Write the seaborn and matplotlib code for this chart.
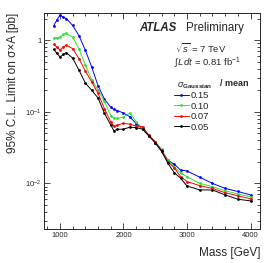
import numpy as np
import pandas as pd
import seaborn as sns
import matplotlib
matplotlib.use("Agg")
import matplotlib.pyplot as plt
from matplotlib.ticker import LogLocator, FixedLocator, MultipleLocator, FuncFormatter, NullFormatter
from matplotlib.lines import Line2D

# masses [GeV]
masses = [900, 950, 1000, 1050, 1100, 1200, 1300, 1400, 1500, 1600, 1700, 1800, 1850,
          1900, 2000, 2100, 2200, 2300, 2400, 2500, 2600, 2700, 2800, 2900, 3000,
          3200, 3400, 3600, 3800, 4000]

# 95% CL limits on sigma x A [pb] for each sigma_Gaussian / mean
lim_015 = [1.58, 1.90, 2.23, 2.10, 2.00, 1.60, 1.15, 0.72, 0.42, 0.23, 0.15, 0.115, 0.108,
           0.104, 0.096, 0.085, 0.068, 0.058, 0.046, 0.037, 0.028, 0.021, 0.0185, 0.0153, 0.0149,
           0.0122, 0.0100, 0.0085, 0.0077, 0.0069]
lim_010 = [1.08, 1.08, 1.10, 1.20, 1.24, 1.10, 0.75, 0.45, 0.28, 0.20, 0.14, 0.088, 0.081,
           0.081, 0.084, 0.096, 0.072, 0.058, 0.047, 0.038, 0.030, 0.021, 0.0170, 0.0139, 0.0124,
           0.0100, 0.0090, 0.0079, 0.0071, 0.0065]
lim_007 = [0.87, 0.80, 0.73, 0.80, 0.85, 0.76, 0.55, 0.37, 0.26, 0.18, 0.11, 0.072, 0.063,
           0.065, 0.069, 0.067, 0.063, 0.062, 0.047, 0.038, 0.029, 0.020, 0.0165, 0.0124, 0.0106,
           0.0093, 0.0085, 0.0074, 0.0067, 0.0061]
lim_005 = [0.74, 0.66, 0.58, 0.63, 0.67, 0.56, 0.38, 0.25, 0.20, 0.155, 0.095, 0.065, 0.054,
           0.057, 0.057, 0.061, 0.060, 0.057, 0.046, 0.037, 0.028, 0.019, 0.0141, 0.0118, 0.0092,
           0.0081, 0.0081, 0.0069, 0.0060, 0.0057]

widths = ["0.15", "0.10", "0.07", "0.05"]
colors = ["#0000ff", "#33dd33", "#ff0000", "#000000"]

df = pd.DataFrame({
    "mass": masses * 4,
    "limit": lim_015 + lim_010 + lim_007 + lim_005,
    "width": np.repeat(widths, len(masses)),
})

sns.set_style("ticks")
plt.rcParams["font.family"] = ["Liberation Sans", "DejaVu Sans"]
plt.rcParams["mathtext.fontset"] = "custom"
plt.rcParams["mathtext.rm"] = "Liberation Sans"
plt.rcParams["mathtext.it"] = "Liberation Sans:italic"
plt.rcParams["mathtext.bf"] = "Liberation Sans:bold"

fig = plt.figure(figsize=(2.74, 2.63), dpi=100)
ax = fig.add_axes([0.161, 0.129, 0.788, 0.822])

sns.lineplot(data=df, x="mass", y="limit", hue="width", hue_order=widths,
             palette=colors, marker="o", markersize=2, markeredgewidth=0,
             linewidth=0.7, legend=False, ax=ax)

ax.set_yscale("log")
ax.set_xlim(750, 4150)
ax.set_ylim(0.0023, 2.4)

ax.xaxis.set_major_locator(FixedLocator([1000, 2000, 3000, 4000]))
ax.xaxis.set_minor_locator(MultipleLocator(200))
ax.yaxis.set_major_locator(LogLocator(base=10))
ax.yaxis.set_minor_locator(LogLocator(base=10, subs=np.arange(2, 10)))
ax.yaxis.set_minor_formatter(NullFormatter())


def ylab(v, pos):
    e = int(round(np.log10(v)))
    return "1" if e == 0 else r"$10^{%d}$" % e


ax.yaxis.set_major_formatter(FuncFormatter(ylab))
ax.tick_params(which="both", direction="in", top=True, right=True, labelsize=5.5, width=0.6, pad=2)
ax.tick_params(which="major", length=4)
ax.tick_params(which="minor", length=2)
for s in ax.spines.values():
    s.set_linewidth(0.7)

ax.set_xlabel("Mass [GeV]", fontsize=8.5, loc="right", labelpad=6)
ax.set_ylabel("95% C.L. Limit on σ×A [pb]", fontsize=8.5, loc="top", labelpad=4)

ax.text(0.44, 0.93, "ATLAS", transform=ax.transAxes, fontsize=8.3,
        fontweight="bold", fontstyle="italic", va="center")
ax.text(0.655, 0.93, "Preliminary", transform=ax.transAxes, fontsize=8.3, va="center")
ax.text(0.605, 0.835, r"$\sqrt{s}$ = 7 TeV", transform=ax.transAxes, fontsize=6.8, va="center")
ax.text(0.6, 0.765, r"$\int L\,dt$ = 0.81 fb$^{-1}$", transform=ax.transAxes, fontsize=6.8, va="center")
ax.text(0.615, 0.665, r"$\sigma_{\mathbf{Gaussian}}$", transform=ax.transAxes, fontsize=6.5, va="center")
ax.text(0.815, 0.672, "/ mean", transform=ax.transAxes, fontsize=6.5, fontweight="bold", va="center")

handles = [Line2D([], [], color=c, marker="o", markersize=2, markeredgewidth=0, linewidth=0.7)
           for c in colors]
ax.legend(handles, widths, loc="upper left", bbox_to_anchor=(0.6, 0.637), frameon=False,
          fontsize=6.8, handlelength=1.6, handletextpad=0.2, labelspacing=0.15,
          borderpad=0, borderaxespad=0)

fig.savefig("out.png", dpi=100)
